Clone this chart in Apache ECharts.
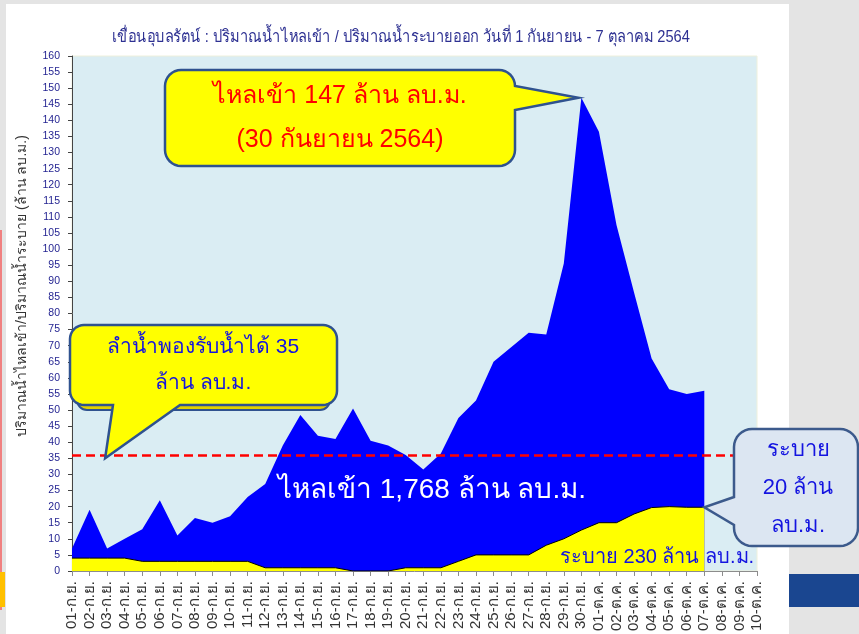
<!DOCTYPE html>
<html>
<head>
<meta charset="utf-8">
<script src="https://cdn.jsdelivr.net/npm/echarts@6/dist/echarts.min.js"></script>
<style>
  html, body { margin: 0; padding: 0; background: #e4e4e4; }
  #chart { width: 859px; height: 634px; }
</style>
</head>
<body>
<div id="chart"></div>
<script>
const DAYS = [
  "01-ก.ย.", "02-ก.ย.", "03-ก.ย.", "04-ก.ย.", "05-ก.ย.", "06-ก.ย.", "07-ก.ย.", "08-ก.ย.", "09-ก.ย.", "10-ก.ย.",
  "11-ก.ย.", "12-ก.ย.", "13-ก.ย.", "14-ก.ย.", "15-ก.ย.", "16-ก.ย.", "17-ก.ย.", "18-ก.ย.", "19-ก.ย.", "20-ก.ย.",
  "21-ก.ย.", "22-ก.ย.", "23-ก.ย.", "24-ก.ย.", "25-ก.ย.", "26-ก.ย.", "27-ก.ย.", "28-ก.ย.", "29-ก.ย.", "30-ก.ย.",
  "01-ต.ค.", "02-ต.ค.", "03-ต.ค.", "04-ต.ค.", "05-ต.ค.", "06-ต.ค.", "07-ต.ค.", "08-ต.ค.", "09-ต.ค.", "10-ต.ค."
];

// ปริมาณน้ำไหลเข้า (ล้าน ลบ.ม.)
const INFLOW = [
  7, 19, 7, 10, 13, 22, 11, 16.5, 15, 17,
  23, 27, 39, 48.5, 42, 41, 50.5, 40.5, 39, 36,
  31.5, 36.5, 47.5, 53, 65, 69.5, 74, 73.5, 95.5, 147,
  136.5, 107.5, 86.5, 66, 56.5, 55, 56
];

// ปริมาณน้ำระบาย (ล้าน ลบ.ม.)
const OUTFLOW = [
  4, 4, 4, 4, 3, 3, 3, 3, 3, 3,
  3, 1, 1, 1, 1, 1, 0, 0, 0, 1,
  1, 1, 3, 5, 5, 5, 5, 8, 10, 12.7,
  15, 15, 17.7, 19.7, 20, 19.8, 19.8
];

const CAPACITY = 36;

const TITLE = "เขื่อนอุบลรัตน์ : ปริมาณน้ำไหลเข้า / ปริมาณน้ำระบายออก วันที่ 1 กันยายน - 7 ตุลาคม 2564";
const Y_NAME = "ปริมาณน้ำไหลเข้า/ปริมาณน้ำระบาย (ล้าน ลบ.ม.)";

const FONT = "'Liberation Sans', 'Noto Sans', sans-serif";

function arc(points, cx, cy, r, from, to) {
  const steps = 8;
  for (let i = 0; i <= steps; i++) {
    const t = (from + (to - from) * i / steps) * Math.PI / 180;
    points.push([cx + r * Math.cos(t), cy + r * Math.sin(t)]);
  }
}

// rounded box with a pointer on one side
function calloutPoints(x, y, w, h, r, side, a, b, tip) {
  const p = [];
  arc(p, x + w - r, y + r, r, -90, 0);
  if (side === "right") {
    p.push([x + w, a], tip, [x + w, b]);
  }
  arc(p, x + w - r, y + h - r, r, 0, 90);
  if (side === "bottom") {
    p.push([b, y + h], tip, [a, y + h]);
  }
  arc(p, x + r, y + h - r, r, 90, 180);
  if (side === "left") {
    p.push([x, b], tip, [x, a]);
  }
  arc(p, x + r, y + r, r, 180, 270);
  return p;
}

function textEl(x, y, text, size, color, align, extra) {
  return Object.assign({
    type: "text",
    x, y,
    z: 20,
    style: {
      text,
      fill: color,
      font: `${size}px ${FONT}`,
      align: align || "center",
      verticalAlign: "middle",
    },
  }, extra || {});
}

const chart = echarts.init(document.getElementById("chart"));

chart.setOption({
  backgroundColor: "#e4e4e4",
  animation: false,
  grid: {
    left: 72, right: 102, top: 56, bottom: 63,
    show: true,
    backgroundColor: "#daedf3",
    borderColor: "#eef0dc",
    borderWidth: 1,
  },
  xAxis: {
    type: "category",
    data: DAYS,
    boundaryGap: false,
    axisLine: { lineStyle: { color: "#8c8c8c", width: 1 } },
    axisTick: { show: true, interval: 0, length: 5, lineStyle: { color: "#8c8c8c" } },
    axisLabel: { interval: 0, rotate: 90, color: "#333", fontSize: 15, fontFamily: FONT, margin: 10 },
    splitLine: { show: false },
  },
  yAxis: {
    type: "value",
    min: 0,
    max: 160,
    interval: 5,
    axisLine: { show: true, lineStyle: { color: "#444", width: 1 } },
    axisTick: { show: true, length: 4, lineStyle: { color: "#444" } },
    axisLabel: { color: "#1f1f8f", fontSize: 10.5, fontFamily: FONT, margin: 12 },
    splitLine: { show: false },
  },
  series: [
    {
      name: "ไหลเข้า",
      type: "line",
      data: INFLOW,
      symbol: "none",
      lineStyle: { width: 0 },
      areaStyle: { color: "#0000ff", opacity: 1 },
      z: 2,
      markLine: {
        silent: true,
        symbol: "none",
        label: { show: false },
        lineStyle: { color: "#ff0000", width: 2.5, type: [9, 5] },
        data: [{ yAxis: CAPACITY }],
        z: 5,
      },
    },
    {
      name: "ระบาย",
      type: "line",
      data: OUTFLOW,
      symbol: "none",
      lineStyle: { width: 1, color: "#000" },
      areaStyle: { color: "#ffff00", opacity: 1 },
      z: 3,
    },
  ],
});

const peakIdx = INFLOW.indexOf(Math.max(...INFLOW));
const peakTip = chart.convertToPixel({ gridIndex: 0 }, [peakIdx, INFLOW[peakIdx]]);
const lastIdx = OUTFLOW.length - 1;
const outTip = chart.convertToPixel({ gridIndex: 0 }, [lastIdx, OUTFLOW[lastIdx]]);
const capTip = chart.convertToPixel({ gridIndex: 0 }, [2, 35]);

chart.setOption({
  graphic: [
    // slide background pieces
    { type: "rect", shape: { x: 6, y: 4, width: 783, height: 640 }, style: { fill: "#ffffff" }, z: -10, silent: true },
    { type: "rect", shape: { x: 0, y: 230, width: 2, height: 380 }, style: { fill: "#f08080" }, z: -9, silent: true },
    { type: "rect", shape: { x: 0, y: 572, width: 5, height: 35 }, style: { fill: "#ffc000" }, z: -9, silent: true },
    { type: "rect", shape: { x: 789, y: 574, width: 70, height: 33 }, style: { fill: "#1a4690" }, z: -9, silent: true },

    // title (narrow face)
    textEl(401, 37, TITLE, 17, "#2e3192", "center", { scaleX: 0.86 }),

    // y axis name
    textEl(22, 286, Y_NAME, 14, "#333", "center", { rotation: Math.PI / 2 }),

    // peak callout
    {
      type: "polygon",
      z: 10,
      shape: { points: calloutPoints(165, 70, 350, 96, 16, "right", 86, 110, [peakTip[0] - 3, peakTip[1]]) },
      style: { fill: "#ffff00", stroke: "#2f528f", lineWidth: 2.5 },
    },
    textEl(340, 96, "ไหลเข้า 147 ล้าน ลบ.ม.", 25, "#ff0000"),
    textEl(340, 140, "(30 กันยายน 2564)", 25, "#ff0000"),

    // capacity callout with shadow
    {
      type: "rect",
      z: 9,
      shape: { x: 77, y: 332, width: 253, height: 78, r: 10 },
      style: { fill: "#e0d000", stroke: "#2f528f", lineWidth: 2 },
    },
    {
      type: "polygon",
      z: 10,
      shape: { points: calloutPoints(70, 325, 267, 80, 14, "bottom", 113, 180, [capTip[0] - 2, capTip[1]]) },
      style: { fill: "#ffff00", stroke: "#2f528f", lineWidth: 2.5 },
    },
    textEl(203, 347, "ลำน้ำพองรับน้ำได้ 35", 21, "#1414e0"),
    textEl(203, 383, "ล้าน ลบ.ม.", 21, "#1414e0"),

    // outflow callout
    {
      type: "polygon",
      z: 10,
      shape: { points: calloutPoints(734, 429, 124, 117, 18, "left", 497, 525, outTip) },
      style: { fill: "#dce6f2", stroke: "#3c5a8c", lineWidth: 2.5 },
    },
    textEl(798, 450, "ระบาย", 22, "#1414e0"),
    textEl(798, 488, "20 ล้าน", 22, "#1414e0"),
    textEl(798, 526, "ลบ.ม.", 22, "#1414e0"),

    // totals
    textEl(278, 490, "ไหลเข้า 1,768 ล้าน ลบ.ม.", 28, "#ffffff", "left"),
    textEl(560, 557, "ระบาย 230 ล้าน ลบ.ม.", 20, "#1414e0", "left"),
  ],
});
</script>
</body>
</html>
